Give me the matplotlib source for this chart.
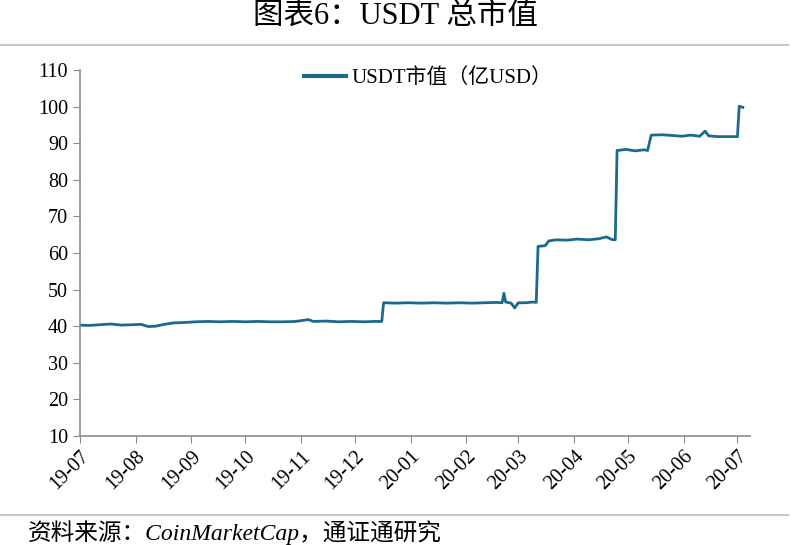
import matplotlib
matplotlib.use('Agg')
import matplotlib.pyplot as plt
import matplotlib.dates as mdates
from matplotlib.lines import Line2D
import pandas as pd

plt.rcParams['font.family'] = ['Liberation Serif', 'Noto Sans CJK SC']

# USDT market cap (100M USD)
dates = [
    '2019-07-01', '2019-07-06', '2019-07-12', '2019-07-18', '2019-07-24', '2019-07-30',
    '2019-08-04', '2019-08-08', '2019-08-12', '2019-08-17', '2019-08-22', '2019-08-28',
    '2019-09-03', '2019-09-10', '2019-09-17', '2019-09-24', '2019-10-01', '2019-10-08',
    '2019-10-15', '2019-10-22', '2019-10-29', '2019-11-05', '2019-11-08', '2019-11-15',
    '2019-11-22', '2019-11-29', '2019-12-06', '2019-12-12', '2019-12-16', '2019-12-17',
    '2019-12-24', '2019-12-31', '2020-01-07', '2020-01-14', '2020-01-21', '2020-01-28',
    '2020-02-04', '2020-02-11', '2020-02-18', '2020-02-21', '2020-02-22', '2020-02-23',
    '2020-02-26', '2020-02-28', '2020-03-01', '2020-03-05', '2020-03-09', '2020-03-11',
    '2020-03-12', '2020-03-16', '2020-03-18', '2020-03-22', '2020-03-28', '2020-04-03',
    '2020-04-09', '2020-04-15', '2020-04-19', '2020-04-22', '2020-04-24', '2020-04-25',
    '2020-04-30', '2020-05-05', '2020-05-10', '2020-05-12', '2020-05-14', '2020-05-20',
    '2020-05-26', '2020-05-31', '2020-06-05', '2020-06-10', '2020-06-13', '2020-06-15',
    '2020-06-20', '2020-06-26', '2020-07-01', '2020-07-02', '2020-07-04',
]
usdt_cap = [
    40.3, 40.2, 40.4, 40.6, 40.3, 40.4,
    40.5, 39.9, 40.0, 40.5, 40.9, 41.0,
    41.2, 41.3, 41.2, 41.3, 41.2, 41.3,
    41.2, 41.2, 41.3, 41.8, 41.3, 41.4,
    41.2, 41.3, 41.2, 41.3, 41.3, 46.4,
    46.3, 46.4, 46.3, 46.4, 46.3, 46.4,
    46.3, 46.4, 46.5, 46.4, 49.0, 46.6,
    46.3, 45.0, 46.4, 46.4, 46.6, 46.5,
    61.8, 62.0, 63.3, 63.6, 63.5, 63.8,
    63.6, 63.9, 64.4, 63.7, 63.6, 88.0,
    88.3, 87.9, 88.2, 88.0, 92.2, 92.3,
    92.1, 91.9, 92.2, 91.9, 93.3, 92.0,
    91.8, 91.8, 91.8, 100.1, 99.8,
]
yticks = list(range(10, 111, 10))
title = '图表6：USDT 总市值'
legend_label = 'USDT市值（亿USD）'
source = '资料来源：CoinMarketCap，通证通研究'

x = pd.to_datetime(dates)
line_color = '#1b6a8c'
gray = '#8c8c8c'

fig = plt.figure(figsize=(8, 5.45), dpi=100)
ax = fig.add_axes([0.1, 0.2, 0.8375, 0.6716])

ax.plot(x, usdt_cap, color=line_color, lw=2.0)

ax.set_ylim(10, 110)
ax.set_yticks(yticks)
ax.set_xlim(pd.Timestamp('2019-07-01'), pd.Timestamp('2020-07-08'))
ax.xaxis.set_major_locator(mdates.MonthLocator())
ax.xaxis.set_major_formatter(mdates.DateFormatter('%y-%m'))
for lab in ax.get_xticklabels():
    lab.set_rotation(45)
    lab.set_ha('right')
    lab.set_rotation_mode('anchor')

ax.tick_params(axis='both', direction='out', length=5, color=gray, labelsize=14.5)
ax.tick_params(axis='x', pad=3)
for s in ['top', 'right']:
    ax.spines[s].set_visible(False)
for s in ['left', 'bottom']:
    ax.spines[s].set_color(gray)
    ax.spines[s].set_linewidth(1.2)

handle = Line2D([0], [0], color=line_color, lw=3)
ax.legend([handle], [legend_label], loc='upper center', bbox_to_anchor=(0.52, 1.055),
          frameon=False, fontsize=15, handlelength=2.0, handletextpad=0.3)

fig.text(0.494, 0.996, title, ha='center', va='top', fontsize=22)
fig.add_artist(Line2D([0, 0.985], [0.917, 0.917], color='#c8c8c8', lw=1.5))
fig.add_artist(Line2D([0, 0.985], [0.055, 0.055], color='#c8c8c8', lw=1.5))
fig.text(0.035, 0.0, source, ha='left', va='bottom', fontsize=17, style='italic')

fig.savefig('out.png', dpi=100)
